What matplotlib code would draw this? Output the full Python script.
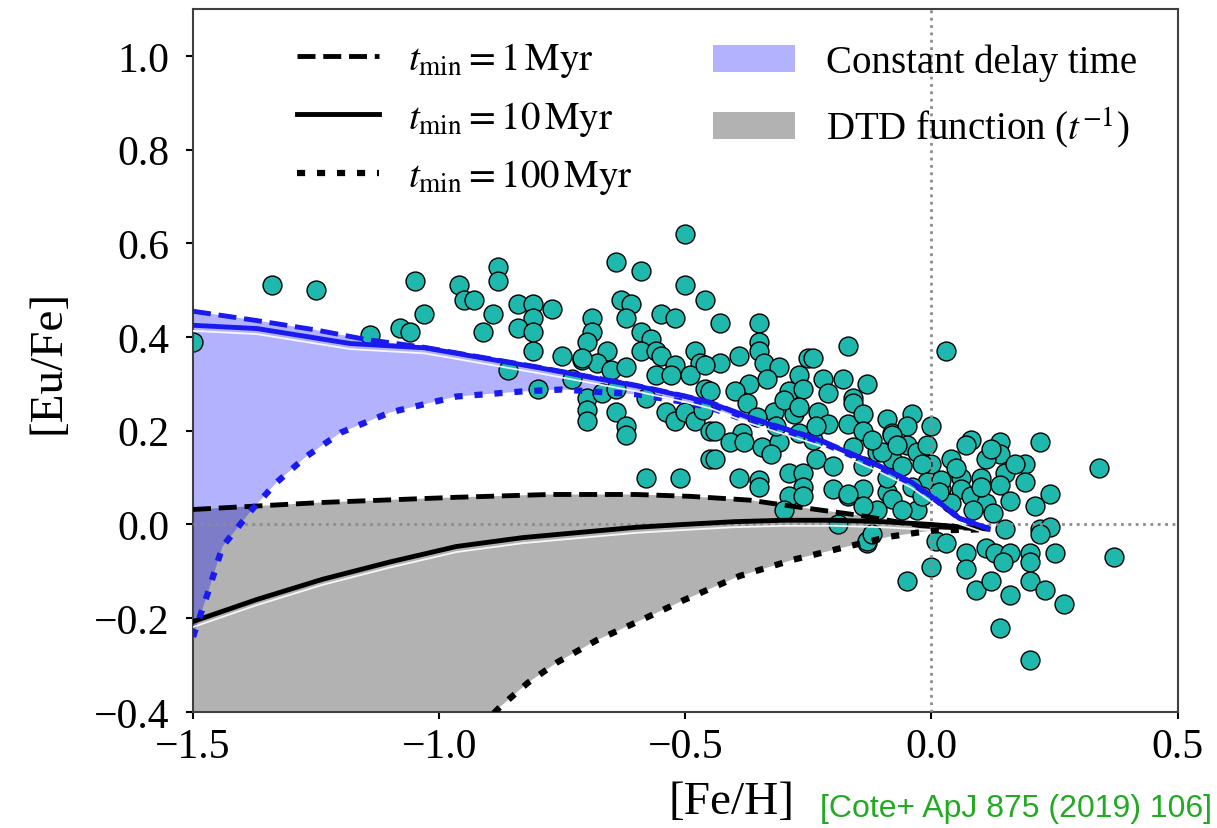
import numpy as np
import matplotlib
matplotlib.use("Agg")
import matplotlib.pyplot as plt
import matplotlib.patheffects as pe
from matplotlib.lines import Line2D
from matplotlib.patches import Patch

plt.rcParams['font.family'] = ['Liberation Serif', 'DejaVu Serif']
plt.rcParams['mathtext.fontset'] = 'stix'

# --- model curves: [Fe/H] vs [Eu/Fe] ---
# constant delay time, t_min = 1 Myr
cd1_feh = [-1.5, -1.37, -1.25, -1.15, -1.03, -0.8, -0.6, -0.5, -0.45, -0.37, -0.23, -0.105, -0.04, 0.0, 0.057, 0.115]
cd1_eu = [0.455, 0.435, 0.415, 0.395, 0.378, 0.336, 0.297, 0.274, 0.261, 0.229, 0.182, 0.125, 0.09, 0.06, 0.013, -0.008]
# constant delay time, t_min = 10 Myr
cd10_feh = [-1.5, -1.37, -1.18, -1.03, -0.8, -0.6, -0.5, -0.45, -0.37, -0.23, -0.105, -0.04, 0.0, 0.057, 0.115]
cd10_eu = [0.425, 0.418, 0.386, 0.377, 0.335, 0.296, 0.273, 0.26, 0.228, 0.181, 0.124, 0.09, 0.06, 0.013, -0.008]
# constant delay time, t_min = 100 Myr
cd100_feh = [-1.5, -1.472, -1.44, -1.38, -1.33, -1.27, -1.2, -1.1, -0.965, -0.83, -0.75, -0.694, -0.6, -0.505,
             -0.45, -0.37, -0.234, -0.1, 0.0, 0.057, 0.115]
cd100_eu = [-0.24, -0.153, -0.047, 0.032, 0.09, 0.145, 0.196, 0.239, 0.273, 0.284, 0.288, 0.284, 0.278, 0.262,
            0.25, 0.22, 0.178, 0.118, 0.06, 0.013, -0.008]

# DTD function (t^-1)
dtd1_feh = [-1.5, -1.237, -0.965, -0.776, -0.6, -0.49, -0.37, -0.29, -0.15, -0.02, 0.115]
dtd1_eu = [0.032, 0.047, 0.058, 0.064, 0.064, 0.06, 0.052, 0.04, 0.02, -0.003, -0.01]
dtd10_feh = [-1.5, -1.37, -1.237, -1.1, -0.965, -0.83, -0.694, -0.6, -0.505, -0.4, -0.3, -0.2, -0.1, 0.0, 0.115]
dtd10_eu = [-0.207, -0.16, -0.117, -0.08, -0.047, -0.028, -0.015, -0.006, 0.0, 0.006, 0.009, 0.009, 0.006, 0.0, -0.01]
dtd100_feh = [-1.5, -1.2, -1.0, -0.877, -0.82, -0.76, -0.68, -0.6, -0.5, -0.39, -0.28, -0.17, -0.085, 0.0, 0.115]
dtd100_eu = [-1.1, -0.75, -0.52, -0.39, -0.338, -0.294, -0.247, -0.209, -0.16, -0.11, -0.075, -0.047, -0.026,
             -0.013, -0.01]

# --- observed stars ---
stars = [
    (-1.50, 0.39), (-1.34, 0.51), (-1.25, 0.50), (-1.14, 0.405), (-1.05, 0.52), (-1.08, 0.42), (-1.06, 0.41),
    (-1.03, 0.45), (-0.96, 0.51), (-0.95, 0.48), (-0.93, 0.48), (-0.91, 0.41), (-0.89, 0.45), (-0.88, 0.55),
    (-0.88, 0.52), (-0.50, 0.62), (-0.64, 0.56), (-0.59, 0.54), (-0.50, 0.51), (-0.46, 0.48), (-0.63, 0.48),
    (-0.61, 0.47), (-0.62, 0.44), (-0.55, 0.45), (-0.52, 0.44), (-0.84, 0.47), (-0.81, 0.47), (-0.81, 0.44),
    (-0.77, 0.46), (-0.84, 0.42), (-0.81, 0.41), (-0.81, 0.37), (-0.86, 0.33), (-0.80, 0.29), (-0.75, 0.36),
    (-0.73, 0.31), (-0.69, 0.44), (-0.69, 0.41), (-0.70, 0.39), (-0.66, 0.37), (-0.71, 0.35), (-0.68, 0.345),
    (-0.65, 0.33), (-0.62, 0.335), (-0.59, 0.41), (-0.57, 0.395), (-0.59, 0.37), (-0.56, 0.37), (-0.55, 0.36),
    (-0.52, 0.34), (-0.56, 0.32), (-0.53, 0.32), (-0.48, 0.37), (-0.47, 0.345), (-0.49, 0.32), (-0.46, 0.29),
    (-0.70, 0.27), (-0.70, 0.245), (-0.70, 0.22), (-0.67, 0.28), (-0.64, 0.29), (-0.64, 0.24), (-0.62, 0.21),
    (-0.62, 0.19), (-0.58, 0.27), (-0.54, 0.24), (-0.52, 0.22), (-0.50, 0.24), (-0.48, 0.22), (-0.45, 0.20),
    (-0.45, 0.14), (-0.58, 0.10), (-0.51, 0.10), (-0.71, 0.355),
    (-0.43, 0.43), (-0.35, 0.43), (-0.17, 0.38), (-0.35, 0.39), (-0.35, 0.37), (-0.39, 0.36), (-0.34, 0.345),
    (-0.31, 0.335), (-0.25, 0.355), (-0.24, 0.355), (-0.43, 0.345), (-0.46, 0.34), (-0.27, 0.32), (-0.22, 0.31),
    (-0.18, 0.31), (-0.13, 0.30), (-0.37, 0.30), (-0.335, 0.31), (-0.40, 0.285), (-0.29, 0.285), (-0.26, 0.29),
    (-0.21, 0.28), (-0.16, 0.27), (-0.16, 0.26), (-0.45, 0.285), (-0.375, 0.26), (-0.32, 0.24), (-0.28, 0.235),
    (-0.23, 0.24), (-0.21, 0.215), (-0.17, 0.215), (-0.14, 0.235), (-0.14, 0.20), (-0.09, 0.225), (-0.44, 0.20),
    (-0.385, 0.195), (-0.41, 0.175), (-0.38, 0.175), (-0.345, 0.165), (-0.31, 0.175), (-0.27, 0.195),
    (-0.24, 0.18), (-0.44, 0.14), (-0.325, 0.15), (-0.29, 0.11), (-0.26, 0.11), (-0.235, 0.14), (-0.20, 0.125),
    (-0.16, 0.165), (-0.14, 0.125), (-0.11, 0.155), (-0.08, 0.195), (-0.08, 0.14), (-0.39, 0.10), (-0.35, 0.095),
    (-0.26, 0.08), (-0.29, 0.06), (-0.20, 0.075), (-0.17, 0.06), (-0.14, 0.075), (-0.09, 0.07), (-0.465, 0.245),
    (-0.30, 0.265), (-0.27, 0.25), (-0.355, 0.23), (-0.315, 0.21), (-0.235, 0.21),
    (0.03, 0.37), (-0.04, 0.235), (-0.05, 0.21), (0.0, 0.21), (-0.08, 0.19), (0.08, 0.18), (0.07, 0.17),
    (0.14, 0.175), (0.14, 0.15), (0.22, 0.175), (0.11, 0.14), (0.04, 0.14), (-0.05, 0.17), (-0.03, 0.155),
    (0.0, 0.13), (-0.10, 0.155), (-0.06, 0.125), (-0.02, 0.13), (0.19, 0.13), (0.15, 0.11), (0.19, 0.09),
    (0.14, 0.085), (0.24, 0.065), (0.21, 0.04), (0.16, 0.05), (0.06, 0.10), (0.02, 0.075), (0.06, 0.075),
    (0.08, 0.06), (0.11, 0.045), (0.125, 0.025), (-0.01, 0.09), (0.02, 0.095), (-0.04, 0.08), (-0.08, 0.055),
    (-0.03, 0.03), (0.04, 0.045), (0.085, 0.03), (0.15, -0.01), (0.22, -0.01), (0.24, -0.005), (0.01, -0.035),
    (0.07, -0.06), (0.11, -0.05), (0.13, -0.06), (0.16, -0.06), (0.20, -0.06), (0.25, -0.06), (0.03, -0.04),
    (-0.07, 0.17), (-0.12, 0.18), (-0.01, 0.17), (-0.09, 0.10), (0.05, 0.12), (0.10, 0.10), (0.12, 0.16),
    (0.17, 0.13), (0.10, 0.08),
    (0.34, 0.12), (0.22, -0.02), (0.37, -0.07), (0.20, -0.08), (0.145, -0.08), (0.20, -0.12), (0.23, -0.14),
    (0.27, -0.17), (0.16, -0.15), (0.14, -0.22), (0.20, -0.29),
    (0.0, -0.09), (-0.05, -0.12), (-0.13, -0.04), (0.07, -0.095), (0.09, -0.14), (0.12, -0.12),
    (-0.35, 0.08), (-0.30, 0.03), (-0.26, 0.06), (-0.17, 0.065), (-0.19, 0.0), (-0.13, -0.035), (-0.12, -0.02),
    (-0.11, 0.03), (-0.06, 0.03), (-0.14, 0.04), (-0.02, 0.06), (0.015, 0.07),
]
star_feh = [s[0] for s in stars]
star_eu = [s[1] for s in stars]

dash = (0, (3.7, 1.6))
dots = (0, (1.3, 1.9))
shadow = [pe.SimpleLineShadow(offset=(0, -4), shadow_color='white', alpha=0.9, linewidth=1.3), pe.Normal()]

fig = plt.figure(figsize=(12.17, 8.29), dpi=100)
ax = fig.add_axes([0.1586, 0.140, 0.809, 0.848])

# shaded ranges between the 1 Myr and 100 Myr curves
ax.fill(np.concatenate([dtd1_feh, dtd100_feh[::-1]]), np.concatenate([dtd1_eu, dtd100_eu[::-1]]),
        color='k', alpha=0.3, lw=0, zorder=1)
ax.fill(np.concatenate([cd1_feh, cd100_feh[::-1]]), np.concatenate([cd1_eu, cd100_eu[::-1]]),
        color='blue', alpha=0.3, lw=0, zorder=1)

ax.scatter(star_feh, star_eu, s=185, color='#1fb8ad', edgecolor='k', linewidth=1.0, zorder=2)

ax.axhline(0, color='0.55', ls=':', lw=2, zorder=3)
ax.axvline(0, color='0.55', ls=':', lw=2, zorder=3)

ax.plot(dtd1_feh, dtd1_eu, color='k', ls=dash, lw=3.5, zorder=4)
ax.plot(dtd10_feh, dtd10_eu, color='k', ls='-', lw=3.5, zorder=4, path_effects=shadow)
ax.plot(dtd100_feh, dtd100_eu, color='k', ls=dots, lw=4.5, zorder=4)
ax.plot(cd1_feh, cd1_eu, color='#1a1aee', ls=dash, lw=3.5, zorder=4)
ax.plot(cd100_feh, cd100_eu, color='#1a1aee', ls=dots, lw=4.5, zorder=4)
ax.plot(cd10_feh, cd10_eu, color='#1a1aee', ls='-', lw=3.5, zorder=5, path_effects=shadow)

ax.set_xlim(-1.5, 0.5)
ax.set_ylim(-0.4, 1.1)
ax.set_xticks([-1.5, -1.0, -0.5, 0.0, 0.5])
ax.set_yticks([-0.4, -0.2, 0.0, 0.2, 0.4, 0.6, 0.8, 1.0])
ax.tick_params(labelsize=30, length=5, width=1.5)
ax.tick_params(axis='x', pad=6)
ax.tick_params(axis='y', pad=12)
for sp in ax.spines.values():
    sp.set_linewidth(1.5)
    sp.set_color('0.25')

ax.set_xlabel('[Fe/H]', fontsize=34)
ax.set_ylabel('[Eu/Fe]', fontsize=34)
ax.xaxis.set_label_coords(0.547, -0.097)
ax.yaxis.set_label_coords(-0.125, 0.5)

line_handles = [
    Line2D([], [], color='k', ls=dash, lw=3.5),
    Line2D([], [], color='k', ls='-', lw=3.5),
    Line2D([], [], color='k', ls=dots, lw=4.5),
]
line_labels = [r'$t_\mathrm{min} = 1\,\mathrm{Myr}$',
               r'$t_\mathrm{min} = 10\,\mathrm{Myr}$',
               r'$t_\mathrm{min} = 100\,\mathrm{Myr}$']
leg1 = ax.legend(line_handles, line_labels, loc='upper left', bbox_to_anchor=(0.07, 1.005),
                 frameon=False, fontsize=28, handlelength=2.1, handletextpad=0.75, labelspacing=0.5)
ax.add_artist(leg1)

patch_handles = [Patch(color='blue', alpha=0.3, lw=0), Patch(color='k', alpha=0.3, lw=0)]
patch_labels = ['Constant delay time', r'DTD function ($t^{-1}$)']
ax.legend(patch_handles, patch_labels, loc='upper left', bbox_to_anchor=(0.493, 1.0),
          frameon=False, fontsize=28, handlelength=2.1, handletextpad=0.8, labelspacing=0.6)

fig.text(0.996, 0.006, '[Cote+ ApJ 875 (2019) 106]', ha='right', va='bottom',
         color='#22aa22', fontsize=23, family='Liberation Sans')

fig.savefig('out.png', dpi=100)
